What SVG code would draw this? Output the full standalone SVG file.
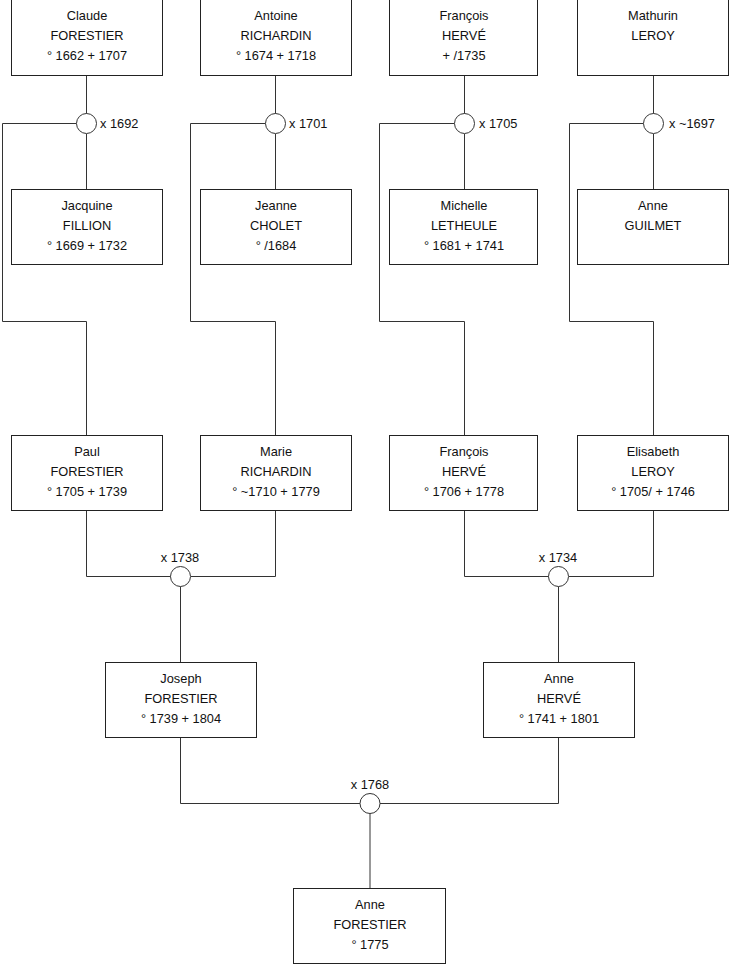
<svg xmlns="http://www.w3.org/2000/svg" width="740" height="975" viewBox="0 0 740 975">
<style>
.box{fill:#fff;stroke:#222;stroke-width:1}
.t{font-family:"Liberation Sans",Arial,sans-serif;font-size:12.8px;fill:#111;text-anchor:middle}
.l{font-family:"Liberation Sans",Arial,sans-serif;font-size:12.8px;fill:#111}
.c{fill:none;stroke:#333;stroke-width:1}
.m{fill:#fff;stroke:#333;stroke-width:1}
</style>
<rect width="740" height="975" fill="#fff"/>
<g id="connectors">
<path class="c" d="M86.5 76V114M86.5 134V189M76.5 123.5H2.5V321.5H86.5V435"/>
<path class="c" d="M275.5 76V114M275.5 134V189M265.5 123.5H190.5V321.5H275.5V435"/>
<path class="c" d="M464.5 76V114M464.5 134V189M454.5 123.5H379.5V321.5H464.5V435"/>
<path class="c" d="M653.5 76V114M653.5 134V189M643.5 123.5H569.5V321.5H653.5V435"/>
<path class="c" d="M86.5 510V576.5H171M191 576.5H275.5V510M180.5 586.5V662"/>
<path class="c" d="M464.5 510V576.5H549M569 576.5H653.5V510M558.5 586.5V662"/>
<path class="c" d="M180.5 737V803.5H360M380 803.5H558.5V737M370 813.5V888"/>
<circle class="m" cx="86.5" cy="123.5" r="10"/>
<circle class="m" cx="275.5" cy="123.5" r="10"/>
<circle class="m" cx="464.5" cy="123.5" r="10"/>
<circle class="m" cx="653.5" cy="123.5" r="10"/>
<circle class="m" cx="180.5" cy="576.5" r="10"/>
<circle class="m" cx="558.5" cy="576.5" r="10"/>
<circle class="m" cx="370" cy="803.5" r="10"/>
<text class="l" x="100" y="128">x 1692</text>
<text class="l" x="289" y="128">x 1701</text>
<text class="l" x="479" y="128">x 1705</text>
<text class="l" x="669" y="128">x ~1697</text>
<text class="t" x="180" y="562">x 1738</text>
<text class="t" x="558" y="562">x 1734</text>
<text class="t" x="370" y="789">x 1768</text>
</g>
<g id="claude"><rect class="box" x="11.5" y="-0.5" width="151" height="76"/><text class="t" x="87" y="19.5">Claude</text><text class="t" x="87" y="39.5">FORESTIER</text><text class="t" x="87" y="59.5">° 1662 + 1707</text></g>
<g id="antoine"><rect class="box" x="200.5" y="-0.5" width="151" height="76"/><text class="t" x="276" y="19.5">Antoine</text><text class="t" x="276" y="39.5">RICHARDIN</text><text class="t" x="276" y="59.5">° 1674 + 1718</text></g>
<g id="francois1"><rect class="box" x="389.5" y="-0.5" width="148" height="76"/><text class="t" x="464" y="19.5">François</text><text class="t" x="464" y="39.5">HERVÉ</text><text class="t" x="464" y="59.5">+ /1735</text></g>
<g id="mathurin"><rect class="box" x="577.5" y="-0.5" width="151" height="76"/><text class="t" x="653" y="19.5">Mathurin</text><text class="t" x="653" y="39.5">LEROY</text></g>
<g id="jacquine"><rect class="box" x="11.5" y="189.5" width="151" height="75"/><text class="t" x="87" y="209.5">Jacquine</text><text class="t" x="87" y="229.5">FILLION</text><text class="t" x="87" y="249.5">° 1669 + 1732</text></g>
<g id="jeanne"><rect class="box" x="200.5" y="189.5" width="151" height="75"/><text class="t" x="276" y="209.5">Jeanne</text><text class="t" x="276" y="229.5">CHOLET</text><text class="t" x="276" y="249.5">° /1684</text></g>
<g id="michelle"><rect class="box" x="389.5" y="189.5" width="148" height="75"/><text class="t" x="464" y="209.5">Michelle</text><text class="t" x="464" y="229.5">LETHEULE</text><text class="t" x="464" y="249.5">° 1681 + 1741</text></g>
<g id="anne-guilmet"><rect class="box" x="577.5" y="189.5" width="151" height="75"/><text class="t" x="653" y="209.5">Anne</text><text class="t" x="653" y="229.5">GUILMET</text></g>
<g id="paul"><rect class="box" x="11.5" y="435.5" width="151" height="75"/><text class="t" x="87" y="455.5">Paul</text><text class="t" x="87" y="475.5">FORESTIER</text><text class="t" x="87" y="495.5">° 1705 + 1739</text></g>
<g id="marie"><rect class="box" x="200.5" y="435.5" width="151" height="75"/><text class="t" x="276" y="455.5">Marie</text><text class="t" x="276" y="475.5">RICHARDIN</text><text class="t" x="276" y="495.5">° ~1710 + 1779</text></g>
<g id="francois2"><rect class="box" x="389.5" y="435.5" width="148" height="75"/><text class="t" x="464" y="455.5">François</text><text class="t" x="464" y="475.5">HERVÉ</text><text class="t" x="464" y="495.5">° 1706 + 1778</text></g>
<g id="elisabeth"><rect class="box" x="577.5" y="435.5" width="151" height="75"/><text class="t" x="653" y="455.5">Elisabeth</text><text class="t" x="653" y="475.5">LEROY</text><text class="t" x="653" y="495.5">° 1705/ + 1746</text></g>
<g id="joseph"><rect class="box" x="105.5" y="662.5" width="151" height="75"/><text class="t" x="181" y="682.5">Joseph</text><text class="t" x="181" y="702.5">FORESTIER</text><text class="t" x="181" y="722.5">° 1739 + 1804</text></g>
<g id="anne-herve"><rect class="box" x="483.5" y="662.5" width="151" height="75"/><text class="t" x="559" y="682.5">Anne</text><text class="t" x="559" y="702.5">HERVÉ</text><text class="t" x="559" y="722.5">° 1741 + 1801</text></g>
<g id="anne-forestier"><rect class="box" x="293.5" y="888.5" width="152" height="75"/><text class="t" x="370" y="908.5">Anne</text><text class="t" x="370" y="928.5">FORESTIER</text><text class="t" x="370" y="948.5">° 1775</text></g>
</svg>
